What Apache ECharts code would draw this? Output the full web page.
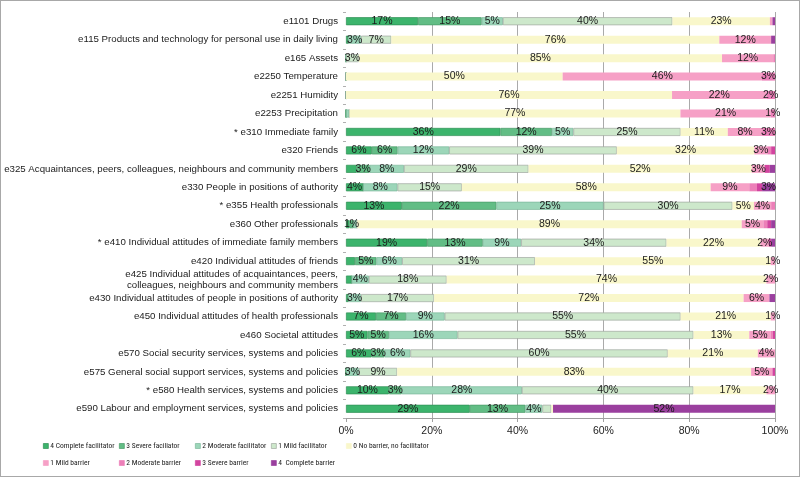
<!DOCTYPE html>
<html>
<head>
<meta charset="utf-8">
<script src="https://cdn.jsdelivr.net/npm/echarts@6/dist/echarts.min.js"></script>
<style>
html,body{margin:0;padding:0;background:#fff;}
#chart{width:800px;height:477px;box-sizing:border-box;border:1px solid #a8a8a8;}
</style>
</head>
<body>
<div id="chart"></div>
<script>
const categories = [
  'e1101 Drugs',
  'e115 Products and technology for personal use in daily living',
  'e165 Assets',
  'e2250 Temperature',
  'e2251 Humidity',
  'e2253 Precipitation',
  '* e310 Immediate family',
  'e320 Friends',
  'e325 Acquaintances, peers, colleagues, neighbours and community members',
  'e330 People in positions of authority',
  '* e355 Health professionals',
  'e360 Other professionals',
  '* e410 Individual attitudes of immediate family members',
  'e420 Individual attitudes of friends',
  'e425 Individual attitudes of acquaintances, peers,\ncolleagues, neighbours and community members',
  'e430 Individual attitudes of people in positions of authority',
  'e450 Individual attitudes of health professionals',
  'e460 Societal attitudes',
  'e570 Social security services, systems and policies',
  'e575 General social support services, systems and policies',
  '* e580 Health services, systems and policies',
  'e590 Labour and employment services, systems and policies'
];

const seriesNames = [
  '4 Complete facilitator', '3 Severe faciliator', '2 Moderate facilitator', '1 Mild facilitator',
  '0 No barrier, no facilitator', '1 Mild barrier', '2 Moderate barrier', '3 Severe barrier', '4  Complete barrier'
];

// percentages per row (integers = labelled segments, decimals = small unlabelled segments)
const completeFacilitator = [17,0.5,0,0,0,0,36,6,2.5,4,13,0.8,19,2.1,1.3,0.5,7,5,6,0,10,29];
const severeFacilitator   = [15,0,0,0,0,0,12,6,3,0,22,1.0,13,5,0,0,7,5,3,0,3,13];
const moderateFacilitator = [5,3,0,0,0,0.8,5,12,8,8,25,0.8,9,6,4,3,9,16,6,3,28,4];
const mildFacilitator     = [40,7,3,0,0,0,25,39,29,15,30,0,34,31,18,17,55,55,60,9,40,2.1];
const noBarrier           = [23,76,85,50,76,77,11,32,52,58,5,89,22,55,74,72,21,13,21,83,17,0.4];
const mildBarrier         = [0.6,12,12,46,22,21,8,3,3,9,4,5,2,1,2,6,1,5,4,5,2,0];
const moderateBarrier     = [0,0,0.4,3,2,1,3,0.9,0,1.8,0.9,0.9,0,0,0,0,0,0.5,0,0,0,0];
const severeBarrier       = [0,0,0,0,0,0,0,0.9,1.2,1.2,0,0.9,0.5,0,0,0,0,0.5,0,0.6,0,0];
const completeBarrier     = [0.6,0.9,0,0,0,0,0,0,1.2,3,0,0.9,0.9,0,0,1.3,0,0,0,0,0,52];

const xTicks = [0,20,40,60,80,100];

const allValues = [completeFacilitator, severeFacilitator, moderateFacilitator, mildFacilitator,
  noBarrier, mildBarrier, moderateBarrier, severeBarrier, completeBarrier];

const colors = ['#3cb46c','#62bd85','#9cd6b9','#cde8cb','#f9f7cb','#f6a0c6','#ec7fb8','#d2449f','#9a3f9e'];
const borders = ['#2f8f55','#4a9b69','#7db89b','#a0a8a0',null,null,null,null,null];

const rowSums = categories.map((_, i) => allValues.reduce((s, arr) => s + arr[i], 0));

const FONT = '"Liberation Sans", Arial, sans-serif';

// choose a condensed face for the legend if one is installed, then size it to the legend column
const measureCtx = document.createElement('canvas').getContext('2d');
function textW(font, s) { measureCtx.font = font; return measureCtx.measureText(s).width; }
function hasFont(name) {
  const probe = 'abcdefghijklmnopqrstuvwxyz 0123456789';
  return ['monospace', 'serif'].some(fb => textW('20px "' + name + '", ' + fb, probe) !== textW('20px ' + fb, probe));
}
const condensedCandidates = ['Liberation Sans Narrow', 'Arial Narrow', 'Roboto Condensed', 'Open Sans Condensed', 'DejaVu Sans Condensed', 'Noto Sans Display Condensed'];
const condensed = condensedCandidates.find(hasFont);
const LEGEND_FONT = condensed ? '"' + condensed + '", ' + FONT : FONT;
const widestLegend = '4 Complete facilitator';
let legendSize = 9.5;
while (legendSize > 6 && textW(legendSize + 'px ' + LEGEND_FONT, widestLegend) > 66) legendSize -= 0.25;

const series = allValues.map((arr, si) => ({
  name: seriesNames[si],
  type: 'bar',
  stack: 'total',
  barWidth: 8,
  data: arr.map((v, i) => v / rowSums[i] * 100),
  itemStyle: {
    color: colors[si],
    borderColor: borders[si] || colors[si],
    borderWidth: borders[si] ? 0.7 : 0
  },
  label: {
    show: true,
    position: 'inside',
    fontFamily: FONT,
    fontSize: 10.5,
    color: '#1a1a1a',
    textBorderWidth: 0,
    formatter: p => {
      const v = arr[p.dataIndex];
      return (v > 0 && Number.isInteger(v)) ? v + '%' : '';
    }
  },
  emphasis: { disabled: true }
}));

const legendPos = [
  [42,441],[118,441],[194,441],[270,441],[345,441],
  [42,458],[118,458],[194,458],[270,458]
];
const legends = seriesNames.map((n, i) => ({
  data: [n],
  left: legendPos[i][0],
  top: legendPos[i][1],
  padding: 0,
  icon: 'rect',
  itemWidth: 5,
  itemHeight: 5,
  itemStyle: { borderColor: borders[i] || colors[i], borderWidth: 0.7 },
  selectedMode: false,
  textStyle: { fontFamily: LEGEND_FONT, fontSize: legendSize, color: '#222', padding: [0,0,0,-3] }
}));

const chart = echarts.init(document.getElementById('chart'), null, { renderer: 'canvas' });
chart.setOption({
  animation: false,
  color: colors,
  grid: { left: 345, right: 24, top: 11, bottom: 58, containLabel: false, outerBoundsMode: 'none' },
  legend: legends,
  xAxis: {
    type: 'value',
    min: xTicks[0],
    max: xTicks[xTicks.length - 1],
    interval: xTicks[1] - xTicks[0],
    axisLine: { show: true, lineStyle: { color: '#a0a0a0' } },
    axisTick: { show: true, length: 4, lineStyle: { color: '#a0a0a0' } },
    splitLine: { show: true, showMinLine: false, lineStyle: { color: '#aaaaaa', width: 1 } },
    axisLabel: { formatter: '{value}%', fontFamily: FONT, fontSize: 10.5, color: '#222', margin: 8 }
  },
  yAxis: {
    type: 'category',
    inverse: true,
    data: categories,
    axisLine: { show: false },
    axisTick: { show: true, length: 3, lineStyle: { color: '#b0b0b0' } },
    axisLabel: { fontFamily: FONT, fontSize: 9.7, color: '#222', margin: 8, lineHeight: 11 }
  },
  series: series
});
</script>
</body>
</html>
